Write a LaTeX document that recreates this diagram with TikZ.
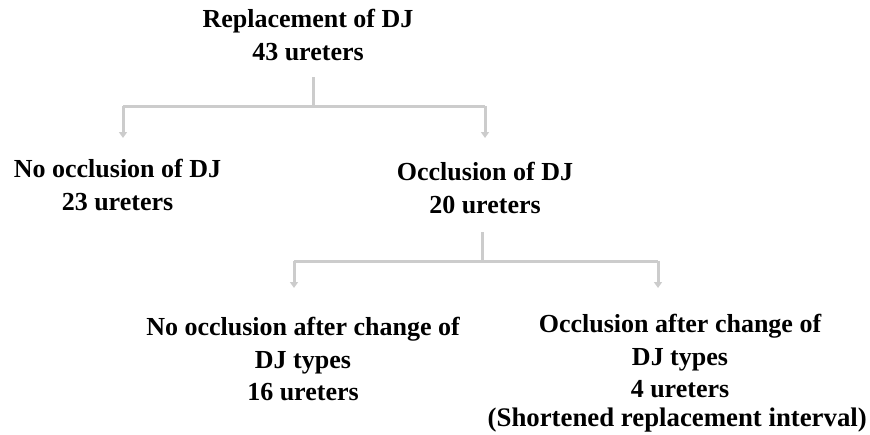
\documentclass[tikz,border=0pt]{standalone}
\usepackage{fontspec}
\setmainfont{Liberation Serif}
\usetikzlibrary{arrows.meta}
\begin{document}
\begin{tikzpicture}[x=1pt,y=-1pt,
  lbl/.style={font=\bfseries\fontsize{26}{32.5}\selectfont, align=center, inner sep=0pt},
  conn/.style={draw=black!20, line width=3pt},
  arr/.style={conn, -{Triangle[width=8pt,length=6pt]}}]
\useasboundingbox (0,0) rectangle (870,434);
\node[lbl] (top) at (308,35) {Replacement of DJ\\43 ureters};
\node[lbl] (left) at (117.5,185) {No occlusion of DJ\\23 ureters};
\node[lbl] (mid) at (485,188) {Occlusion of DJ\\20 ureters};
\node[lbl] (bl) at (303,359) {No occlusion after change of\\DJ types\\16 ureters};
\node[lbl] (br) at (680,356) {Occlusion after change of\\DJ types\\4 ureters};
\node[lbl, font=\bfseries\fontsize{26.8}{32.5}\selectfont, anchor=base east] (note) at (867,426) {(Shortened replacement interval)};
\coordinate (s1) at (313,77);
\coordinate (j1) at (313,106);
\coordinate (j1l) at (123,106);
\coordinate (j1r) at (485,106);
\coordinate (a1l) at (123,138);
\coordinate (a1r) at (485,138);
\draw[conn] (s1) -- (j1);
\draw[conn] (j1l) -- (j1r);
\draw[arr] (j1l) -- (a1l);
\draw[arr] (j1r) -- (a1r);
\coordinate (s2) at (482,232);
\coordinate (j2) at (482,261);
\coordinate (j2l) at (294,261);
\coordinate (j2r) at (658,261);
\coordinate (a2l) at (294,288);
\coordinate (a2r) at (658,288);
\draw[conn] (s2) -- (j2);
\draw[conn] (j2l) -- (j2r);
\draw[arr] (j2l) -- (a2l);
\draw[arr] (j2r) -- (a2r);
\end{tikzpicture}
\end{document}
